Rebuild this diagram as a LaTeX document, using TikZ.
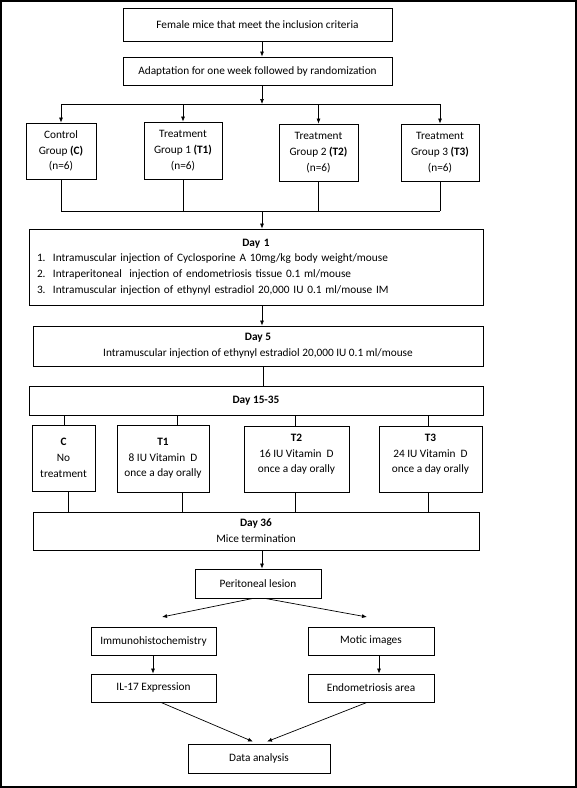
\documentclass[tikz,border=0pt]{standalone}
\usepackage{fontspec}
\setmainfont{Carlito}
\usetikzlibrary{arrows.meta}
\begin{document}
\begin{tikzpicture}[x=1pt,y=-1pt,
  box/.style={draw, line width=0.8pt, inner sep=2pt, align=center, font=\fontsize{11.3}{15.7}\selectfont},
  arr/.style={-{Latex[length=5pt,width=4pt]}, line width=0.7pt},
  ln/.style={line width=0.7pt}]
\useasboundingbox (0,0) rectangle (577,788);
\draw[line width=1.6pt] (0.8,0.8) rectangle (576.2,787.2);

\node[box, minimum width=269pt, minimum height=33pt] (b1) at (257.5,24.5) {Female mice that meet the inclusion criteria};
\node[box, minimum width=269pt, minimum height=28pt] (b2) at (257.5,71) {Adaptation for one week followed by randomization};

\node[box, minimum width=70pt, minimum height=56pt] (gC) at (61,151) {Control\\Group \textbf{(C)}\\(n=6)};
\node[box, minimum width=78pt, minimum height=57pt] (gT1) at (183,150.5) {Treatment\\Group 1 \textbf{(T1)}\\(n=6)};
\node[box, minimum width=79pt, minimum height=57pt] (gT2) at (318.5,152.5) {Treatment\\Group 2 \textbf{(T2)}\\(n=6)};
\node[box, minimum width=78pt, minimum height=57pt] (gT3) at (440,152.5) {Treatment\\Group 3 \textbf{(T3)}\\(n=6)};

\coordinate (s1) at (262,104);
\coordinate (m1) at (262,211);
\draw[arr] (b1.south -| s1) -- (b2.north -| s1);
\draw[arr] (b2.south -| s1) -- (s1);
\draw[ln] (s1 -| gC) -- (s1 -| gT3);
\foreach \n in {gC,gT1,gT2,gT3} \draw[arr] (s1 -| \n) -- (\n.north);
\foreach \n in {gC,gT1,gT2,gT3} \draw[ln] (\n.south) -- (m1 -| \n);
\draw[ln] (m1 -| gC) -- (m1 -| gT3);

\node[box, minimum width=454pt, minimum height=76pt, text width=438pt, align=left] (d1) at (256,267)
{{\centering\textbf{Day 1}\par}
\makebox[16pt][l]{1.}Intramuscular injection of Cyclosporine A 10mg/kg body weight/mouse\\
\makebox[16pt][l]{2.}Intraperitoneal~ injection of endometriosis tissue 0.1 ml/mouse\\
\makebox[16pt][l]{3.}Intramuscular injection of ethynyl estradiol 20,000 IU 0.1 ml/mouse IM};
\draw[arr] (m1) -- (d1.north -| m1);

\node[box, minimum width=450pt, minimum height=40pt] (d5) at (258,346) {\textbf{Day 5}\\Intramuscular injection of ethynyl estradiol 20,000 IU 0.1 ml/mouse};
\draw[arr] (d1.south -| m1) -- (d5.north -| m1);

\node[box, minimum width=454pt, minimum height=29pt] (d15) at (256,400.5) {\textbf{Day 15-35}};
\draw[ln] (d5.south -| 263,0) -- (d15.north -| 263,0);

\node[box, minimum width=63pt, minimum height=66pt] (tC) at (63.5,458) {\textbf{C}\\No\\treatment};
\node[box, minimum width=92pt, minimum height=67pt] (tT1) at (163,458.5) {\textbf{T1}\\8 IU Vitamin~ D\\once a day orally};
\node[box, minimum width=105pt, minimum height=66pt, inner sep=0pt] (tT2) at (296.5,459) {\parbox[c][60pt][t]{100pt}{\centering\vspace*{5pt}\textbf{T2}\\16 IU Vitamin~ D\\once a day orally}};
\node[box, minimum width=103pt, minimum height=66pt, inner sep=0pt] (tT3) at (430.5,459) {\parbox[c][60pt][t]{100pt}{\centering\vspace*{5pt}\textbf{T3}\\24 IU Vitamin~ D\\once a day orally}};

\node[box, minimum width=446pt, minimum height=38pt] (d36) at (256,531) {\textbf{Day 36}\\Mice termination};

\draw[ln] (d15.south -| 64,0) -- (tC.north -| 64,0);
\draw[ln] (d15.south -| 177,0) -- (tT1.north -| 177,0);
\draw[ln] (d15.south -| 295,0) -- (tT2.north -| 295,0);
\draw[ln] (d15.south -| 428,0) -- (tT3.north -| 428,0);
\draw[ln] (tC.south -| 68,0) -- (d36.north -| 68,0);
\draw[ln] (tT1.south -| 182,0) -- (d36.north -| 182,0);
\draw[ln] (tT2.south -| 295,0) -- (d36.north -| 295,0);
\draw[ln] (tT3.south -| 428,0) -- (d36.north -| 428,0);

\node[box, minimum width=126pt, minimum height=29pt] (pl) at (258,583.5) {Peritoneal lesion};
\draw[arr] (d36.south -| m1) -- (pl.north -| m1);

\node[box, minimum width=125pt, minimum height=28pt] (ih) at (153.5,641) {Immunohistochemistry};
\node[box, minimum width=126pt, minimum height=28pt] (mi) at (371,641) {Motic images};
\node[box, minimum width=125pt, minimum height=28pt] (il) at (153.5,688) {IL-17 Expression};
\node[box, minimum width=126pt, minimum height=28pt] (ea) at (371,688) {Endometriosis area};
\node[box, minimum width=142pt, minimum height=29pt] (da) at (259,758.5) {Data analysis};

\coordinate (e1) at (162,617);
\coordinate (e2) at (367,617);
\draw[arr] (pl.south -| 253,0) -- (e1);
\draw[arr] (pl.south -| 265,0) -- (e2);
\draw[arr] (ih.south -| 153,0) -- (il.north -| 153,0);
\draw[arr] (mi.south -| 379,0) -- (ea.north -| 379,0);
\draw[arr] (il.south -| 161,0) -- ([yshift=2pt]da.north -| 253,0);
\draw[arr] (ea.south -| 367,0) -- ([yshift=2pt]da.north -| 267,0);
\end{tikzpicture}
\end{document}
